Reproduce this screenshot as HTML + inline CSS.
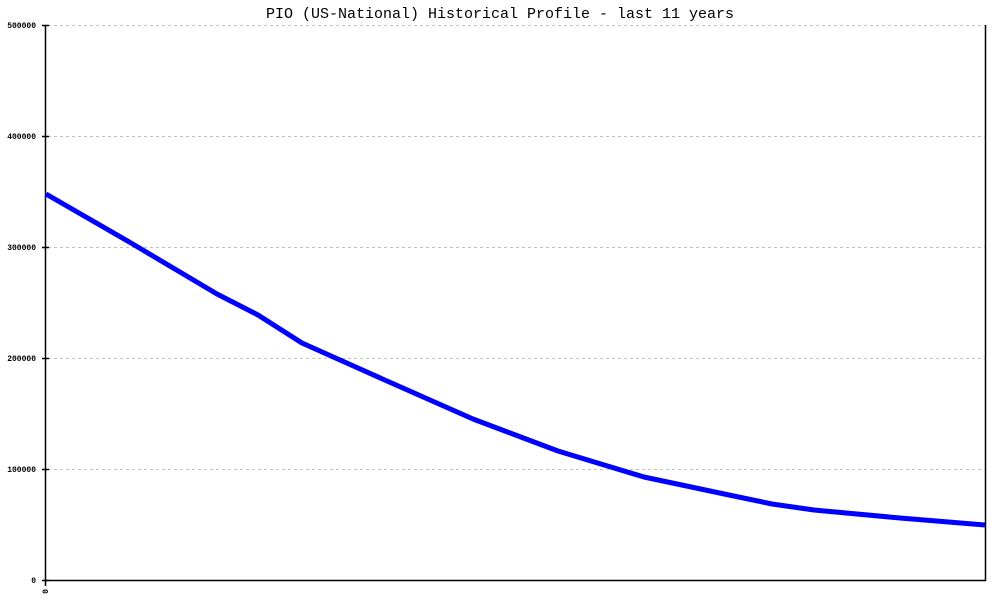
<!DOCTYPE html>
<html><head><meta charset="utf-8"><style>
html,body{margin:0;padding:0;background:#fff;width:1000px;height:600px;overflow:hidden}
</style></head><body>
<svg width="1000" height="600" xmlns="http://www.w3.org/2000/svg" font-family="Liberation Mono, monospace">
<rect width="1000" height="600" fill="#fff"/>
<text x="500" y="18" text-anchor="middle" font-size="15">PIO (US-National) Historical Profile - last 11 years</text>
<g stroke="#c0c0c0" stroke-width="1" stroke-dasharray="3,3">
<line x1="48" y1="25.5" x2="985" y2="25.5"/>
<line x1="48" y1="136.5" x2="985" y2="136.5"/>
<line x1="48" y1="247.5" x2="985" y2="247.5"/>
<line x1="48" y1="358.5" x2="985" y2="358.5"/>
<line x1="48" y1="469.5" x2="985" y2="469.5"/>
</g>
<g stroke="#000" stroke-width="1.5">
<line x1="45.5" y1="25" x2="45.5" y2="586"/>
<line x1="45" y1="580.5" x2="986" y2="580.5"/>
<line x1="985.5" y1="25" x2="985.5" y2="581"/>
<line x1="42" y1="25.5" x2="49" y2="25.5"/>
<line x1="42" y1="136.5" x2="49" y2="136.5"/>
<line x1="42" y1="247.5" x2="49" y2="247.5"/>
<line x1="42" y1="358.5" x2="49" y2="358.5"/>
<line x1="42" y1="469.5" x2="49" y2="469.5"/>
<line x1="42" y1="580.5" x2="49" y2="580.5"/>
</g>
<g font-size="8" text-anchor="end" font-weight="bold">
<text x="36" y="28">500000</text>
<text x="36" y="139">400000</text>
<text x="36" y="250">300000</text>
<text x="36" y="361">200000</text>
<text x="36" y="472">100000</text>
<text x="36" y="583">0</text>
</g>
<text x="0" y="0" font-size="8" font-weight="bold" transform="translate(48,589) rotate(-90)" text-anchor="end">0</text>
<polyline fill="none" stroke="#0000ff" stroke-width="5" stroke-linejoin="round"
points="46,194 131,243 217,294 258,315 302,343 387,381 473,419 558,451 644,477 729,495 772,504 814,510 900,518 985,525"/>
</svg>
</body></html>
